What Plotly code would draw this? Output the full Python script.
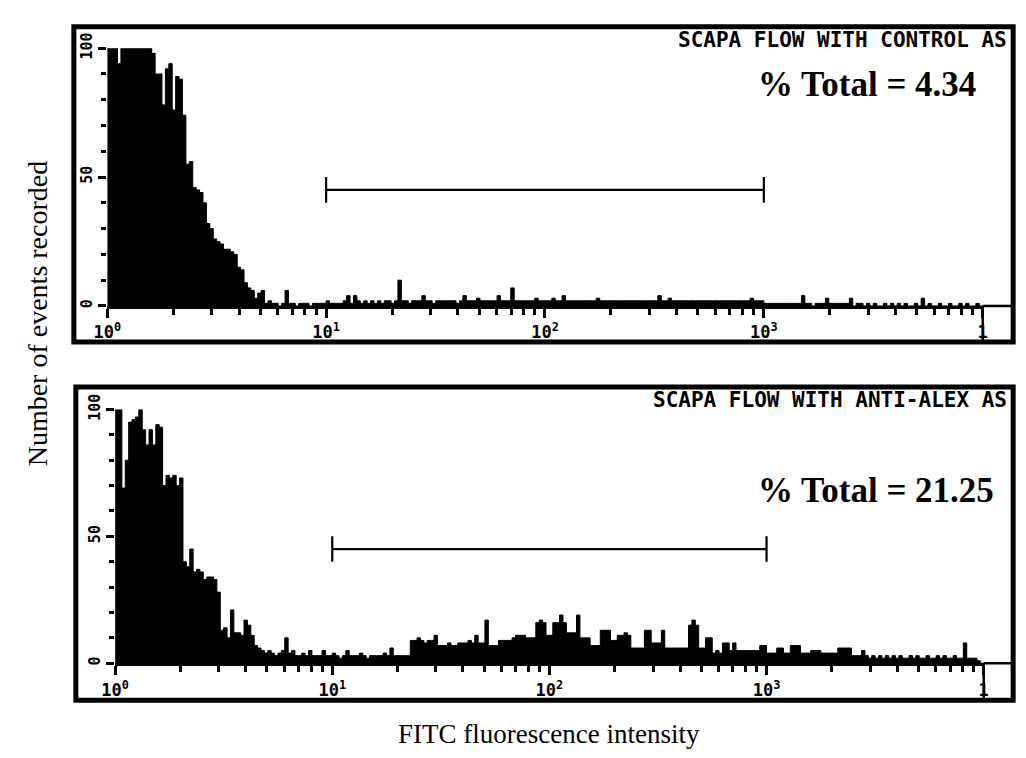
import numpy as np
import plotly.graph_objects as go

# ---------------- data ----------------
CHANNELS_PER_DECADE = 64  # 256 log channels over 4 decades

control_counts = [
    100, 100, 100, 94, 100, 100, 100, 100, 100, 100,
    100, 100, 100, 98, 90, 90, 78, 92, 94, 76,
    89, 88, 74, 55, 56, 46, 45, 44, 40, 32,
    30, 26, 25, 24, 22, 22, 21, 20, 15, 14,
    9, 7, 6, 3, 5, 6, 1, 2, 1, 1,
    0, 1, 6, 1, 1, 0, 1, 1, 1, 0,
    1, 1, 1, 1, 2, 1, 1, 1, 1, 2,
    4, 1, 4, 2, 1, 2, 1, 2, 1, 2,
    1, 2, 2, 1, 2, 10, 2, 2, 1, 2,
    2, 2, 4, 2, 2, 1, 2, 2, 2, 2,
    2, 2, 1, 2, 4, 2, 2, 2, 3, 2,
    2, 2, 2, 2, 4, 2, 2, 2, 7, 2,
    2, 2, 2, 2, 2, 3, 2, 2, 2, 2,
    3, 2, 2, 4, 2, 2, 2, 2, 2, 2,
    2, 2, 2, 3, 2, 2, 2, 2, 2, 2,
    2, 2, 2, 2, 2, 2, 2, 2, 2, 2,
    2, 4, 2, 2, 3, 2, 2, 2, 2, 2,
    2, 2, 2, 2, 2, 2, 2, 2, 2, 2,
    2, 2, 2, 2, 2, 2, 2, 2, 3, 2,
    2, 2, 1, 1, 1, 1, 1, 1, 1, 1,
    1, 1, 1, 4, 1, 1, 0, 1, 1, 1,
    3, 1, 1, 1, 1, 1, 1, 3, 0, 1,
    1, 0, 1, 0, 1, 0, 0, 1, 0, 1,
    0, 1, 0, 1, 0, 0, 1, 0, 3, 0,
    1, 0, 0, 1, 0, 0, 1, 0, 0, 1,
    0, 1, 0, 0, 1, 0,
]

antialex_counts = [
    100, 100, 69, 80, 95, 96, 97, 100, 92, 86,
    92, 86, 94, 93, 70, 74, 73, 74, 70, 73,
    40, 38, 45, 36, 37, 36, 33, 34, 34, 33,
    28, 13, 14, 10, 21, 12, 12, 11, 17, 15,
    11, 7, 6, 5, 4, 5, 4, 3, 4, 5,
    10, 4, 5, 3, 3, 4, 3, 5, 3, 3,
    3, 5, 3, 3, 4, 3, 2, 3, 5, 3,
    3, 3, 4, 3, 2, 3, 3, 3, 3, 4,
    3, 6, 3, 3, 3, 3, 3, 9, 9, 10,
    9, 8, 9, 9, 11, 7, 7, 7, 8, 7,
    7, 8, 8, 8, 9, 8, 11, 8, 8, 17,
    7, 7, 7, 9, 9, 9, 9, 10, 11, 11,
    11, 10, 10, 10, 16, 17, 16, 11, 11, 16,
    16, 19, 16, 12, 12, 12, 19, 10, 10, 10,
    7, 7, 7, 13, 13, 13, 9, 9, 11, 11,
    12, 11, 6, 6, 6, 6, 13, 13, 8, 8,
    8, 13, 6, 6, 6, 6, 6, 6, 6, 15,
    17, 15, 6, 6, 10, 10, 4, 5, 4, 8,
    8, 5, 8, 5, 5, 5, 5, 5, 5, 5,
    7, 7, 4, 4, 4, 6, 6, 4, 4, 7,
    7, 7, 4, 4, 4, 5, 5, 5, 4, 4,
    4, 4, 4, 6, 6, 6, 6, 3, 3, 3,
    5, 3, 2, 3, 2, 3, 2, 3, 2, 3,
    2, 3, 2, 2, 3, 2, 3, 2, 2, 3,
    2, 2, 3, 2, 3, 2, 2, 3, 2, 2,
    8, 2, 2, 2, 1, 0,
]

panel_titles = ["SCAPA FLOW WITH CONTROL AS", "SCAPA FLOW WITH ANTI-ALEX AS"]
panel_percent = ["% Total = 4.34", "% Total = 21.25"]

gate_bounds = [10, 1000]   # marker region 10^1 .. 10^3
gate_level = 45
gate_cap = [40, 50]

x_major_vals = [1, 10, 100, 1000, 10000]
x_major_text = ["10<sup>0</sup>", "10<sup>1</sup>", "10<sup>2</sup>", "10<sup>3</sup>", "1"]
x_minor_vals = [d * 10 ** k for k in range(4) for d in range(2, 10)]
y_tick_vals = [0, 50, 100]
y_tick_text = ["0", "50", "100"]
y_minor_vals = [10, 20, 30, 40, 60, 70, 80, 90]

x_title = "FITC fluorescence intensity"
y_title = "Number of events recorded"

# ---------------- figure ----------------
W, H = 1026, 758


def px(xp):
    return xp / W


def py(yp):
    return 1 - yp / H


fig = go.Figure()

panels = [
    dict(counts=control_counts, n=1, xdom=[px(95), px(987)], ydom=[py(297), py(33)]),
    dict(counts=antialex_counts, n=2, xdom=[px(103), px(988)], ydom=[py(663), py(403)]),
]

for p in panels:
    xa = "x" if p["n"] == 1 else "x2"
    ya = "y" if p["n"] == 1 else "y2"
    n = len(p["counts"])
    edges = np.power(10.0, np.arange(n + 1) / CHANNELS_PER_DECADE)
    ys = list(p["counts"]) + [p["counts"][-1]]
    fig.add_trace(go.Scatter(
        x=edges, y=ys, mode="lines", xaxis=xa, yaxis=ya,
        line=dict(shape="hv", color="black", width=1),
        fill="tozeroy", fillcolor="black", hoverinfo="skip", showlegend=False,
    ))
    gx = [gate_bounds[0], gate_bounds[0], None, gate_bounds[0], gate_bounds[1], None, gate_bounds[1], gate_bounds[1]]
    gy = [gate_cap[0], gate_cap[1], None, gate_level, gate_level, None, gate_cap[0], gate_cap[1]]
    fig.add_trace(go.Scatter(
        x=gx, y=gy, mode="lines", xaxis=xa, yaxis=ya,
        line=dict(color="black", width=2.2), hoverinfo="skip", showlegend=False,
    ))

tick_font = dict(family="DejaVu Sans Mono", size=17, color="black", weight="bold")


def xaxis_cfg(dom, anchor):
    return dict(
        type="log", domain=dom, anchor=anchor, range=[0, 4],
        tickmode="array", tickvals=x_major_vals, ticktext=x_major_text,
        ticks="outside", ticklen=9, tickwidth=2.5, tickcolor="#000000",
        minor=dict(tickmode="array", tickvals=x_minor_vals, ticks="outside",
                   ticklen=6, tickwidth=2.5, tickcolor="#000000", showgrid=False),
        showline=True, linecolor="#000000", linewidth=3,
        showgrid=False, zeroline=False, tickfont=tick_font,
    )


def yaxis_cfg(dom, anchor):
    return dict(
        domain=dom, anchor=anchor, range=[0, 100],
        tickmode="array", tickvals=y_tick_vals, ticktext=y_tick_text,
        ticks="outside", ticklen=8, tickwidth=2.5, tickcolor="#000000",
        minor=dict(tickmode="array", tickvals=y_minor_vals, ticks="outside",
                   ticklen=5, tickwidth=2.5, tickcolor="#000000", showgrid=False),
        showline=False, showgrid=False, zeroline=False,
        tickangle=-90, tickfont=dict(family="DejaVu Sans Mono", size=15, color="black", weight="bold"),
    )


fig.update_layout(
    template="simple_white",
    width=W, height=H, margin=dict(l=0, r=0, t=0, b=0),
    paper_bgcolor="white", plot_bgcolor="white",
    xaxis=xaxis_cfg(panels[0]["xdom"], "y"),
    yaxis=yaxis_cfg(panels[0]["ydom"], "x"),
    xaxis2=xaxis_cfg(panels[1]["xdom"], "y2"),
    yaxis2=yaxis_cfg(panels[1]["ydom"], "x2"),
)

shapes = []
for (x0, y0, x1, y1) in [(61, 11, 1018, 334), (63, 380, 1018, 701)]:
    shapes.append(dict(type="rect", xref="paper", yref="paper",
                       x0=px(x0), x1=px(x1), y0=py(y1), y1=py(y0),
                       fillcolor="rgba(0,0,0,0)", opacity=1,
                       line=dict(color="#000000", width=5)))
for (xv, yax, ybot) in [(987, 297, 334), (988, 663, 701)]:
    shapes.append(dict(type="line", xref="paper", yref="paper",
                       x0=px(xv), x1=px(xv), y0=py(yax), y1=py(ybot), opacity=1,
                       line=dict(color="#000000", width=2.5)))
    shapes.append(dict(type="line", xref="paper", yref="paper",
                       x0=px(xv), x1=px(1018), y0=py(yax), y1=py(yax), opacity=1,
                       line=dict(color="#000000", width=2.5)))
fig.update_layout(shapes=shapes)

ann = []
for title, ty in zip(panel_titles, [25, 393]):
    ann.append(dict(text=title, xref="paper", yref="paper", x=px(1014), y=py(ty),
                    xanchor="right", yanchor="middle", showarrow=False,
                    font=dict(family="DejaVu Sans Mono", size=21, color="black", weight="bold")))
for pct, ty in zip(panel_percent, [70, 486]):
    ann.append(dict(text=pct, xref="paper", yref="paper", x=px(756), y=py(ty),
                    xanchor="left", yanchor="middle", showarrow=False,
                    font=dict(family="Liberation Serif", size=35, color="black", weight="bold")))
ann.append(dict(text=x_title, xref="paper", yref="paper", x=px(545), y=py(735),
                xanchor="center", yanchor="middle", showarrow=False,
                font=dict(family="Liberation Serif", size=27, color="black")))
ann.append(dict(text=y_title, xref="paper", yref="paper", x=px(24), y=py(305),
                xanchor="center", yanchor="middle", showarrow=False, textangle=-90,
                font=dict(family="Liberation Serif", size=28, color="black")))
fig.update_layout(annotations=ann)

fig.write_html("out.html")
